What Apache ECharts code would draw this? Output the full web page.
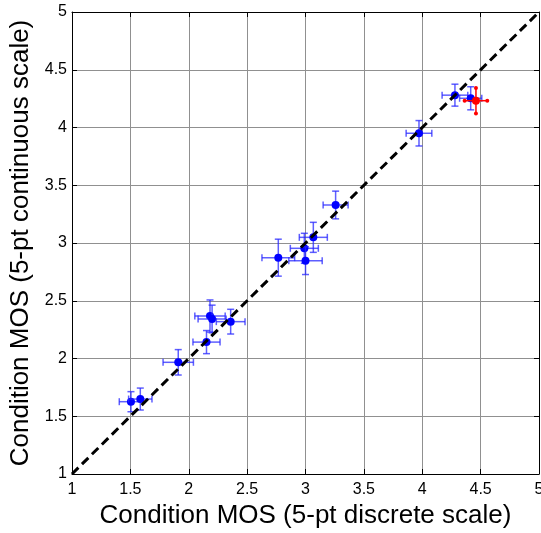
<!DOCTYPE html>
<html><head><meta charset="utf-8">
<script src="https://cdn.jsdelivr.net/npm/echarts@6/dist/echarts.min.js"></script>
<style>html,body{margin:0;padding:0;background:#fff}#c{width:541px;height:533px}</style>
</head><body><div id="c"></div>
<script>
// Blue conditions: discrete MOS (x), continuous MOS (y), and their CI half-widths
const blueX  = [1.505, 1.585, 1.91, 2.152, 2.182, 2.20, 2.359, 2.767, 2.99, 3.00, 3.067, 3.258, 3.972, 4.28, 4.415];
const blueY  = [1.626, 1.649, 1.967, 2.142, 2.368, 2.342, 2.319, 2.873, 2.954, 2.847, 3.049, 3.329, 3.95, 4.28, 4.253];
const blueXe = [0.10, 0.10, 0.13, 0.116, 0.13, 0.12, 0.123, 0.14, 0.12, 0.143, 0.12, 0.107, 0.11, 0.11, 0.095];
const blueYe = [0.087, 0.095, 0.11, 0.10, 0.139, 0.12, 0.107, 0.16, 0.13, 0.12, 0.13, 0.12, 0.11, 0.095, 0.10];
// Red condition
const redX  = [4.46];
const redY  = [4.232];
const redXe = [0.097];
const redYe = [0.11];
// Identity line and ticks
const diagLine = [[1, 1], [5, 5]];
const axisMin = 1, axisMax = 5, axisStep = 0.5;

const blueData = blueX.map((x, i) => [x, blueY[i], blueXe[i], blueYe[i]]);
const redData = redX.map((x, i) => [x, redY[i], redXe[i], redYe[i]]);

function makeRender(color, barColor, dotEnds) {
  return function (params, api) {
    const x = api.value(0), y = api.value(1), xe = api.value(2), ye = api.value(3);
    const c = api.coord([x, y]);
    const l = api.coord([x - xe, y]), r = api.coord([x + xe, y]);
    const b = api.coord([x, y - ye]), t = api.coord([x, y + ye]);
    const ls = { stroke: barColor, lineWidth: 1.5 };
    const ch = [
      { type: 'line', shape: { x1: l[0], y1: c[1], x2: r[0], y2: c[1] }, style: ls },
      { type: 'line', shape: { x1: c[0], y1: b[1], x2: c[0], y2: t[1] }, style: ls }
    ];
    if (dotEnds) {
      [[l[0], c[1]], [r[0], c[1]], [c[0], b[1]], [c[0], t[1]]].forEach(p => {
        ch.push({ type: 'circle', shape: { cx: p[0], cy: p[1], r: 2 }, style: { fill: color } });
      });
    } else {
      const k = 3.5;
      ch.push({ type: 'line', shape: { x1: l[0], y1: c[1] - k, x2: l[0], y2: c[1] + k }, style: ls });
      ch.push({ type: 'line', shape: { x1: r[0], y1: c[1] - k, x2: r[0], y2: c[1] + k }, style: ls });
      ch.push({ type: 'line', shape: { x1: c[0] - k, y1: b[1], x2: c[0] + k, y2: b[1] }, style: ls });
      ch.push({ type: 'line', shape: { x1: c[0] - k, y1: t[1], x2: c[0] + k, y2: t[1] }, style: ls });
    }
    ch.push({ type: 'circle', shape: { cx: c[0], cy: c[1], r: 4 }, style: { fill: color } });
    return { type: 'group', children: ch };
  };
}

const font = 'Liberation Sans, Arial, sans-serif';
const baseAxis = {
  type: 'value', min: axisMin, max: axisMax, interval: axisStep,
  axisLine: { show: true, onZero: false, lineStyle: { color: '#000', width: 1 } },
  axisTick: { show: true, inside: true, length: 5, lineStyle: { color: '#000' } },
};
const chart = echarts.init(document.getElementById('c'), null, { renderer: 'canvas' });
chart.setOption({
  animation: false,
  backgroundColor: '#fff',
  grid: { left: 72, right: 2, top: 12, bottom: 59, containLabel: false, outerBoundsMode: 'none' },
  xAxis: [
    Object.assign({}, baseAxis, {
      position: 'bottom',
      name: 'Condition MOS (5-pt discrete scale)', nameLocation: 'middle', nameGap: 26,
      nameTextStyle: { fontFamily: font, fontSize: 26, color: '#000' },
      axisLabel: { fontFamily: font, fontSize: 16, color: '#000', margin: 8 },
      splitLine: { show: true, lineStyle: { color: '#909090', width: 1 } }
    }),
    Object.assign({}, baseAxis, { position: 'top', axisLabel: { show: false }, splitLine: { show: false } })
  ],
  yAxis: [
    Object.assign({}, baseAxis, {
      position: 'left',
      name: 'Condition MOS (5-pt continuous scale)', nameLocation: 'middle', nameGap: 31,
      nameTextStyle: { fontFamily: font, fontSize: 26, color: '#000' },
      axisLabel: { fontFamily: font, fontSize: 16, color: '#000', margin: 5 },
      splitLine: { show: true, lineStyle: { color: '#909090', width: 1 } }
    }),
    Object.assign({}, baseAxis, { position: 'right', axisLabel: { show: false }, splitLine: { show: false } })
  ],
  series: [
    {
      type: 'custom', data: blueData, renderItem: makeRender('#0000ff', 'rgba(40,40,255,0.75)', false), z: 3
    },
    {
      type: 'custom', data: redData, renderItem: makeRender('#ff0000', '#ff0000', true), z: 4
    },
    {
      type: 'line', data: diagLine, symbol: 'none', z: 5,
      lineStyle: { color: '#000', width: 3, type: [9, 5] }
    }
  ]
});
</script>
</body></html>
